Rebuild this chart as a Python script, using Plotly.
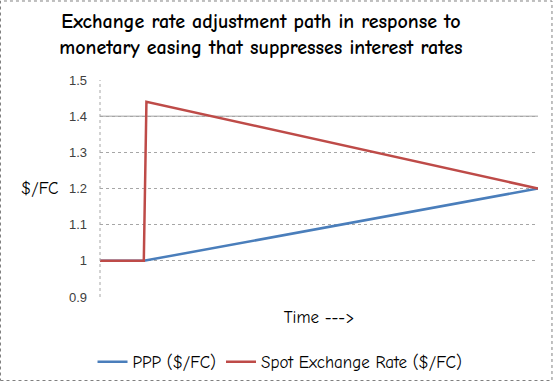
import plotly.graph_objects as go

# Data (time index, arbitrary units)
ppp_time = [0, 10, 100]
ppp_rate = [1.0, 1.0, 1.2]
spot_time = [0, 10, 10.6, 100]
spot_rate = [1.0, 1.0, 1.44, 1.2]
y_ticks = [0.9, 1.0, 1.1, 1.2, 1.3, 1.4, 1.5]
y_tick_labels = ["0.9", "1", "1.1", "1.2", "1.3", "1.4", "1.5"]

TXT = "Comic Sans MS, Comic Neue, DejaVu Sans, sans-serif"

fig = go.Figure()
fig.add_trace(go.Scatter(x=ppp_time, y=ppp_rate, mode="lines", name="PPP ($/FC)",
                         line=dict(color="#4A7EBB", width=2.5)))
fig.add_trace(go.Scatter(x=spot_time, y=spot_rate, mode="lines", name="Spot Exchange Rate ($/FC)",
                         line=dict(color="#BE4B48", width=2.5)))

fig.update_layout(
    width=554, height=382,
    margin=dict(l=100, r=16, t=80, b=85, autoexpand=False),
    paper_bgcolor="white", plot_bgcolor="white",
    title=dict(text="<b>Exchange rate adjustment path in response to<br>monetary easing that suppresses interest rates</b>",
               x=0.471, xanchor="center", y=0.926, yanchor="top",
               font=dict(family=TXT, size=20, color="black")),
    xaxis=dict(range=[0, 100], showgrid=False, showticklabels=False, ticks="",
               zeroline=False, showline=False, automargin=False,
               title=dict(text="Time --->", font=dict(family=TXT, size=17, color="black"), standoff=14)),
    yaxis=dict(range=[0.9, 1.5], tickvals=y_ticks, ticktext=y_tick_labels,
               showgrid=True, gridcolor="#A6A6A6", griddash="dot", gridwidth=1,
               zeroline=False, showline=False, ticks="", ticklen=0, ticklabelstandoff=12,
               automargin=False,
               tickfont=dict(family="Liberation Sans, Arial, sans-serif", size=13, color="#404040")),
    legend=dict(orientation="h", x=0.411, xanchor="center", y=-0.30, yanchor="middle",
                font=dict(family=TXT, size=17, color="black"), itemwidth=30),
    showlegend=True,
)

# left plot border (dotted)
fig.add_shape(type="line", xref="paper", yref="paper", x0=0, x1=0, y0=0, y1=1,
              line=dict(color="#A6A6A6", width=1, dash="dot"))
# solid gridline at 1.4 as in reference
fig.add_shape(type="line", xref="paper", yref="y", x0=0, x1=1, y0=1.4, y1=1.4,
              line=dict(color="#C0C0C0", width=1.5), layer="below")

# outer chart border (dashed)
fig.add_shape(type="rect", xref="paper", yref="paper",
              x0=-0.2272, x1=1.0319, y0=-0.3848, y1=1.3641,
              line=dict(color="#808080", width=1, dash="dot"))

# y-axis title, horizontal
fig.add_annotation(text="$/FC", xref="paper", yref="paper", x=-0.139, y=0.5,
                   xanchor="center", yanchor="middle", showarrow=False,
                   font=dict(family=TXT, size=17, color="black"))

fig.write_html("out.html", config={"displayModeBar": False},
               post_script="document.body.style.margin='0';document.body.style.overflow='hidden';")
